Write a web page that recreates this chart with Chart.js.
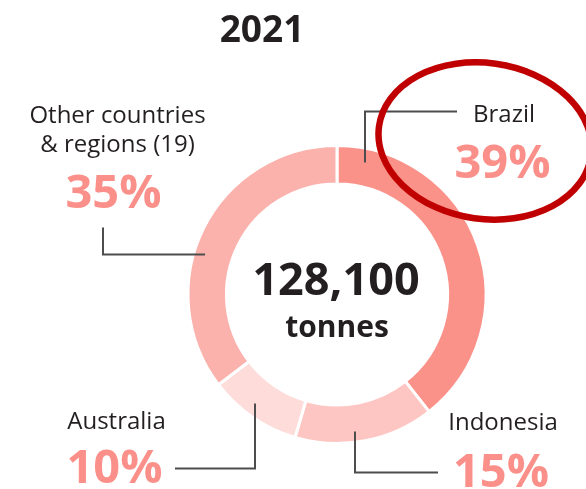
<!DOCTYPE html>
<html>
<head>
<meta charset="utf-8">
<script src="https://cdn.jsdelivr.net/npm/chart.js@4/dist/chart.umd.min.js"></script>
<style>
  html, body { margin: 0; padding: 0; background: #ffffff; }
  #wrap { width: 586px; height: 489px; position: relative; }
</style>
</head>
<body>
<div id="wrap"><canvas id="c" width="586" height="489"></canvas></div>
<script>
// ---- data ----
const title = "2021";
const categories = ["Brazil", "Indonesia", "Australia", "Other countries\n& regions (19)"];
const shares = [39, 15, 10, 35];
const shareLabels = ["39%", "15%", "10%", "35%"];
const totalValue = "128,100";
const totalUnit = "tonnes";
const sliceColors = ["#FB928A", "#FEC6C2", "#FEDCDA", "#FCB2AC"];

const FONT = '"Open Sans", "Noto Sans", sans-serif';
const DARK = "#231F20";
const PCT = "#FA9089";
const LINE = "#4D4D4D";

// label placement (annotation layout, baselines relative to chart centre)
const labelLayout = [
  { name: [167, -172.5], pct: [165.5, -116.5], conn: [[28, -132], [28, -183], [120, -183]] },      // Brazil
  { name: [166, 135.5], pct: [164, 192.5], conn: [[18, 137], [18, 178], [101, 178]] },             // Indonesia
  { name: [-220.5, 134.5], pct: [-222.5, 188.5], conn: [[-82, 109], [-82, 174], [-162, 174]] },    // Australia
  { name: [-219.5, -171.5], pct: [-223.5, -86.5], conn: [[-132, -40], [-234, -40], [-234, -67]] }  // Other
];

const annot = {
  id: "annot",
  afterDraw(chart) {
    const ctx = chart.ctx;
    const arc = chart.getDatasetMeta(0).data[0];
    const cx = arc.x, cy = arc.y;
    ctx.save();
    ctx.textAlign = "center";
    ctx.textBaseline = "alphabetic";

    // title
    ctx.fillStyle = DARK;
    ctx.font = "bold 37px " + FONT;
    ctx.fillText(title, 262, 42);

    // centre total
    ctx.font = "bold 45px " + FONT;
    ctx.fillText(totalValue, cx - 1, cy + 0.5);
    ctx.font = "bold 30px " + FONT;
    ctx.fillText(totalUnit, cx, cy + 42.5);

    // connectors
    ctx.strokeStyle = LINE;
    ctx.lineWidth = 2;
    labelLayout.forEach(l => {
      ctx.beginPath();
      l.conn.forEach((p, i) => {
        const x = cx + p[0], y = cy + p[1];
        if (i === 0) ctx.moveTo(x, y); else ctx.lineTo(x, y);
      });
      ctx.stroke();
    });

    // labels
    categories.forEach((name, i) => {
      const l = labelLayout[i];
      ctx.fillStyle = DARK;
      ctx.font = "24px " + FONT;
      name.split("\n").forEach((line, j) => {
        ctx.fillText(line, cx + l.name[0], cy + l.name[1] + j * 29);
      });
      ctx.fillStyle = PCT;
      ctx.font = "bold 47px " + FONT;
      ctx.fillText(shareLabels[i], cx + l.pct[0], cy + l.pct[1]);
    });

    // red highlight ellipse
    ctx.strokeStyle = "#C00000";
    ctx.lineWidth = 6.5;
    ctx.beginPath();
    ctx.ellipse(485, 141, 107, 78, 8 * Math.PI / 180, 0, Math.PI * 2);
    ctx.stroke();
    ctx.restore();
  }
};

new Chart(document.getElementById("c"), {
  type: "doughnut",
  data: {
    labels: categories,
    datasets: [{
      data: shares,
      backgroundColor: sliceColors,
      borderColor: "#ffffff",
      borderWidth: 3,
      hoverOffset: 0
    }]
  },
  options: {
    responsive: false,
    animation: false,
    devicePixelRatio: 1,
    radius: 149,
    cutout: "74.2%",
    layout: { padding: { left: 188, right: 100, top: 146, bottom: 46 } },
    plugins: { legend: { display: false }, tooltip: { enabled: false } }
  },
  plugins: [annot]
});
</script>
</body>
</html>
